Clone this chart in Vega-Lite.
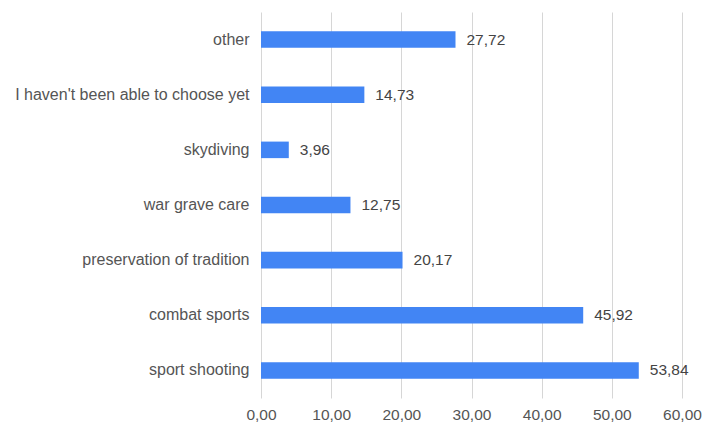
{
  "$schema": "https://vega.github.io/schema/vega-lite/v6.json",
  "autosize": "none",
  "width": 421,
  "height": 386,
  "padding": {"left": 261, "top": 12, "right": 21, "bottom": 31},
  "background": "white",
  "config": {
    "locale": {"number": {"decimal": ",", "thousands": ".", "grouping": [3], "currency": ["", " €"]}},
    "view": {"stroke": null},
    "font": "Liberation Sans"
  },
  "data": {
    "values": [
      {"category": "other", "value": 27.72},
      {"category": "I haven't been able to choose yet", "value": 14.73},
      {"category": "skydiving", "value": 3.96},
      {"category": "war grave care", "value": 12.75},
      {"category": "preservation of tradition", "value": 20.17},
      {"category": "combat sports", "value": 45.92},
      {"category": "sport shooting", "value": 53.84}
    ]
  },
  "encoding": {
    "y": {
      "field": "category",
      "type": "nominal",
      "sort": null,
      "scale": {"paddingInner": 0.7, "paddingOuter": 0.35},
      "axis": {
        "title": null,
        "domain": false,
        "ticks": false,
        "labelPadding": 12,
        "labelFontSize": 16,
        "labelColor": "#555555",
        "labelLimit": 300
      }
    },
    "x": {
      "field": "value",
      "type": "quantitative",
      "scale": {"domain": [0, 60], "nice": false},
      "axis": {
        "title": null,
        "values": [0, 10, 20, 30, 40, 50, 60],
        "format": ".2f",
        "domain": false,
        "ticks": false,
        "grid": true,
        "gridColor": "#d6d6d6",
        "labelPadding": 9,
        "labelFontSize": 15.5,
        "labelColor": "#555555",
        "labelFlush": false
      }
    }
  },
  "layer": [
    {"mark": {"type": "bar", "color": "#4285F4"}},
    {
      "mark": {"type": "text", "align": "left", "baseline": "middle", "dx": 11, "fontSize": 15.5, "color": "#444444"},
      "encoding": {"text": {"field": "value", "type": "quantitative", "format": ".2f"}}
    }
  ]
}
